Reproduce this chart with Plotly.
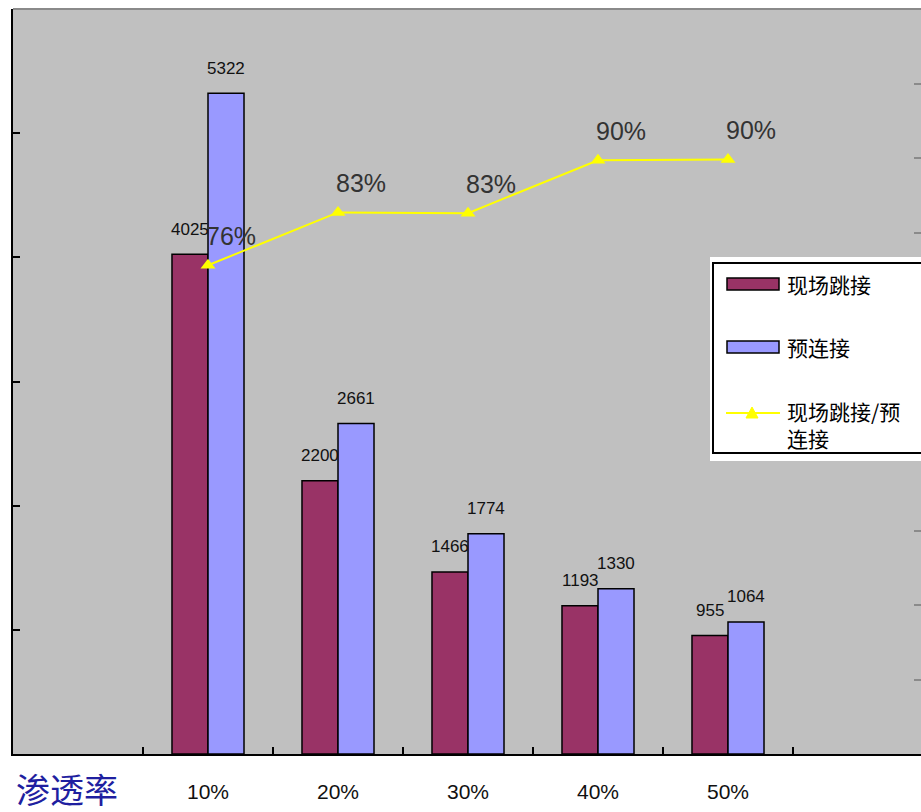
import plotly.graph_objects as go

# ---- data ----
categories = ["10%", "20%", "30%", "40%", "50%"]
field_jump = [4025, 2200, 1466, 1193, 955]          # 现场跳接
pre_connect = [5322, 2661, 1774, 1330, 1064]        # 预连接
ratio = [0.756, 0.827, 0.826, 0.897, 0.898]         # 现场跳接/预连接
ratio_labels = ["76%", "83%", "83%", "90%", "90%"]
series_names = ["现场跳接", "预连接", "现场跳接/预<br>连接"]
axis_title = "渗透率"

x_pos = list(range(1, len(categories) + 1))

C_MAROON = "#993366"
C_BLUE = "#9999FF"
C_YELLOW = "#FFFF00"
BG = "#C0C0C0"

W, H = 921, 812
ML, MR, MT, MB = 13, 0, 9, 58
PW, PH = W - ML - MR, H - MT - MB


def px(x):
    return (x - ML) / PW


def py(y):
    return (H - MB - y) / PH


fig = go.Figure()
fig.add_trace(go.Bar(x=x_pos, y=field_jump, name=series_names[0],
                     marker=dict(color=C_MAROON, line=dict(color="black", width=1.5)),
                     showlegend=False))
fig.add_trace(go.Bar(x=x_pos, y=pre_connect, name=series_names[1],
                     marker=dict(color=C_BLUE, line=dict(color="black", width=1.5)),
                     showlegend=False))
fig.add_trace(go.Scatter(x=x_pos, y=ratio, name=series_names[2], yaxis="y2",
                         mode="lines+markers",
                         line=dict(color=C_YELLOW, width=2),
                         marker=dict(symbol="triangle-up", size=13, color=C_YELLOW),
                         showlegend=False))

annotations = []
half = 0.554 / 4  # offset of each bar centre within the group
for xi, a, b in zip(x_pos, field_jump, pre_connect):
    annotations.append(dict(x=xi - half, y=a, xref="x", yref="y", text=str(a),
                            showarrow=False, yshift=25,
                            font=dict(family="Liberation Sans", size=17, color="#111")))
    annotations.append(dict(x=xi + half, y=b, xref="x", yref="y", text=str(b),
                            showarrow=False, yshift=25,
                            font=dict(family="Liberation Sans", size=17, color="#111")))
for xi, r, lab in zip(x_pos, ratio, ratio_labels):
    annotations.append(dict(x=xi, y=r, xref="x", yref="y2", text=lab,
                            showarrow=False, xshift=23, yshift=29,
                            font=dict(family="Liberation Sans", size=25, color="#333")))

# axis caption
annotations.append(dict(x=px(14), y=py(788), xref="paper", yref="paper", text=axis_title,
                        showarrow=False, xanchor="left", yanchor="middle",
                        font=dict(family="Noto Sans CJK SC", size=34, color="#1F1FA0")))

shapes = []
# top border of plot area
shapes.append(dict(type="line", xref="paper", yref="paper", x0=0, x1=1, y0=1, y1=1,
                   line=dict(color="#8A8A8A", width=2)))

# custom legend
shapes.append(dict(type="rect", xref="paper", yref="paper",
                   x0=px(710), x1=px(925), y0=py(461), y1=py(257),
                   fillcolor="white", line=dict(width=0), layer="above"))
shapes.append(dict(type="rect", xref="paper", yref="paper",
                   x0=px(713), x1=px(930), y0=py(453), y1=py(263),
                   fillcolor="rgba(0,0,0,0)", line=dict(color="black", width=2), layer="above"))
shapes.append(dict(type="rect", xref="paper", yref="paper",
                   x0=px(727), x1=px(779), y0=py(290), y1=py(278),
                   fillcolor=C_MAROON, line=dict(color="black", width=1.5), layer="above"))
shapes.append(dict(type="rect", xref="paper", yref="paper",
                   x0=px(727), x1=px(779), y0=py(353), y1=py(341),
                   fillcolor=C_BLUE, line=dict(color="black", width=1.5), layer="above"))
shapes.append(dict(type="line", xref="paper", yref="paper",
                   x0=px(726), x1=px(780), y0=py(413), y1=py(413),
                   line=dict(color=C_YELLOW, width=2), layer="above"))
shapes.append(dict(type="path", xref="paper", yref="paper",
                   path=f"M {px(746)} {py(418)} L {px(758)} {py(418)} L {px(752)} {py(407)} Z",
                   fillcolor=C_YELLOW, line=dict(color=C_YELLOW, width=1), layer="above"))

leg_font = dict(family="Noto Sans CJK SC", size=21, color="black")
for text, yc in [(series_names[0], 284), (series_names[1], 347), (series_names[2], 424)]:
    annotations.append(dict(x=px(785), y=py(yc), xref="paper", yref="paper", text=text,
                            showarrow=False, xanchor="left", yanchor="middle", align="left",
                            font=leg_font))

fig.update_layout(
    width=W, height=H,
    margin=dict(l=ML, r=MR, t=MT, b=MB),
    paper_bgcolor="white",
    plot_bgcolor=BG,
    barmode="group",
    bargap=0.446,
    bargroupgap=0,
    showlegend=False,
    annotations=annotations,
    shapes=shapes,
    xaxis=dict(
        range=[-0.5, -0.5 + PW / 130],
        tickvals=x_pos, ticktext=categories,
        ticks="", showgrid=False, zeroline=False,
        showline=True, linecolor="black", linewidth=2,
        tickfont=dict(family="Liberation Sans Narrow, Liberation Sans", size=21, color="#111"),
        ticklabelstandoff=18,
        minor=dict(tickvals=[i + 0.5 for i in range(0, 7)], ticks="inside",
                   ticklen=7, tickwidth=2, tickcolor="black", showgrid=False),
        fixedrange=True,
    ),
    yaxis=dict(
        range=[0, 6000], dtick=1000, showticklabels=False,
        ticks="inside", ticklen=7, tickwidth=2, tickcolor="black",
        showline=True, linecolor="black", linewidth=2,
        showgrid=False, zeroline=False,
    ),
    yaxis2=dict(
        range=[0.1, 1.1], dtick=0.1, overlaying="y", side="right",
        showticklabels=False, ticks="inside", ticklen=7, tickwidth=2, tickcolor="#8A8A8A",
        showline=False, showgrid=False, zeroline=False,
    ),
)

fig.write_html("out.html")
